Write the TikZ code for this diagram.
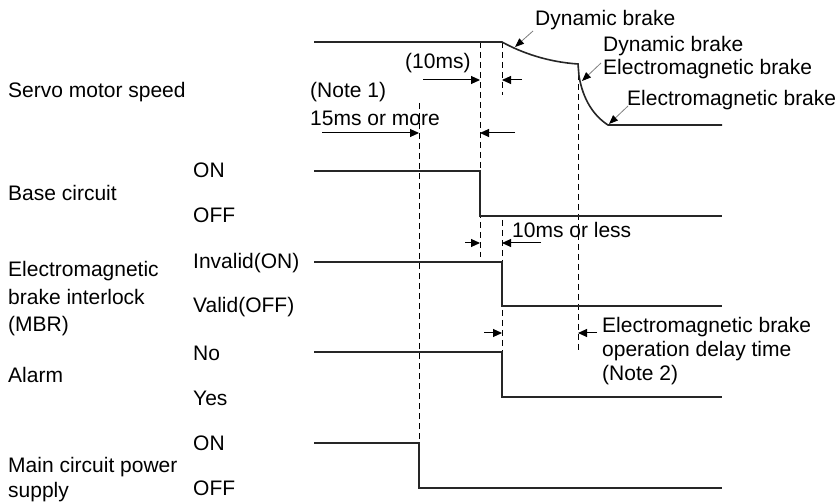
\documentclass[tikz,border=0pt]{standalone}
\usepackage{fontspec}
\setmainfont{Liberation Sans}
\usepackage{tikz}
\usetikzlibrary{arrows.meta, positioning}

\begin{document}
\begin{tikzpicture}[
      x=1pt, y=-1pt,
      font=\fontsize{21}{25}\selectfont,
      lbl/.style={anchor=west, inner sep=0pt, align=left},
      sig/.style={line width=1.6pt, black!85},
      guide/.style={line width=1pt, dash pattern=on 6pt off 4pt},
      dim/.style={line width=1pt, -{Triangle[length=9pt,width=8pt]}},
      leader/.style={line width=0.8pt, gray, -{Triangle[length=9pt,width=7pt,color=black]}}
    ]
      \useasboundingbox (0,0) rectangle (840,502);

      % signal names
      \node[lbl] (srv) at (8,92) {Servo motor speed};
      \node[lbl] (base) at (8,193) {Base circuit};
      \node[lbl, font=\fontsize{21}{27.5}\selectfont] (mbr) at (8,299) {Electromagnetic\\brake interlock\\(MBR)};
      \node[lbl] (alm) at (8,375) {Alarm};
      \node[lbl] (mains) at (8,480) {Main circuit power\\supply};

      % states
      \node[lbl] (baseon) at (193,170) {ON};
      \node[lbl] (baseoff) at (193,215) {OFF};
      \node[lbl] (mbron) at (193,263) {Invalid(ON)};
      \node[lbl] (mbroff) at (193,307) {Valid(OFF)};
      \node[lbl] (almno) at (193,353) {No};
      \node[lbl] (almyes) at (193,398) {Yes};
      \node[lbl] (mainon) at (193,443) {ON};
      \node[lbl] (mainoff) at (193,488) {OFF};

      % timing notes
      \node[lbl] (note1) at (310,92) {(Note 1)};
      \node[lbl] (t15) at (310,118) {15ms or more};
      \node[lbl] (t10) at (405,63) {(10ms)};
      \node[lbl] (tless) at (512,230) {10ms or less};
      \node[lbl, font=\fontsize{21}{24}\selectfont] (delay) at (602,351) {Electromagnetic brake\\operation delay time\\(Note 2)};
      \node[lbl] (db1) at (535,20) {Dynamic brake};
      \node[lbl, font=\fontsize{21}{23}\selectfont] (db2) at (603,58) {Dynamic brake\\Electromagnetic brake};
      \node[lbl] (emb) at (627,100) {Electromagnetic brake};

      % guide lines
      \draw[guide] (419,103) -- (419,443);
      \draw[guide] (480,42) -- (480,257);
      \draw[guide] (502,42) -- (502,95);
      \draw[guide] (502,220) -- (502,352);
      \draw[guide] (578,64) -- (578,350);

      % signals
      \draw[sig] (314,42) -- (502,42)
        .. controls (522,53) and (548,62) .. (578,64) -- (579,76)
        .. controls (583,100) and (594,116) .. (608,125) -- (722,125);
      \draw[sig] (314,171) -- (480,171) -- (480,216) -- (722,216);
      \draw[sig] (314,262) -- (502,262) -- (502,306) -- (722,306);
      \draw[sig] (314,352) -- (502,352) -- (502,397) -- (722,397);
      \draw[sig] (314,443) -- (419,443) -- (419,488) -- (722,488);

      % brake leaders
      \coordinate (db1tip) at (515,47);
      \coordinate (db2tip) at (582,81);
      \coordinate (embtip) at (609,124);
      \draw[leader] (533,31) -- (db1tip);
      \draw[leader] (601,63) -- (db2tip);
      \draw[leader] (628,106) -- (embtip);

      % dimension arrows
      \coordinate (a10l) at (423,80);
      \coordinate (a10r) at (522,80);
      \draw[dim] (a10l) -- (480,80);
      \draw[dim] (a10r) -- (502,80);
      \coordinate (a15l) at (322,133);
      \coordinate (a15r) at (515,133);
      \draw[dim] (a15l) -- (419,133);
      \draw[dim] (a15r) -- (480,133);
      \coordinate (alessl) at (465,243);
      \coordinate (alessr) at (541,243);
      \draw[dim] (alessl) -- (480,243);
      \draw[dim] (alessr) -- (502,243);
      \coordinate (adl) at (484,333);
      \coordinate (adr) at (597,333);
      \draw[dim] (adl) -- (502,333);
      \draw[dim] (adr) -- (578,333);
    \end{tikzpicture}
\end{document}
